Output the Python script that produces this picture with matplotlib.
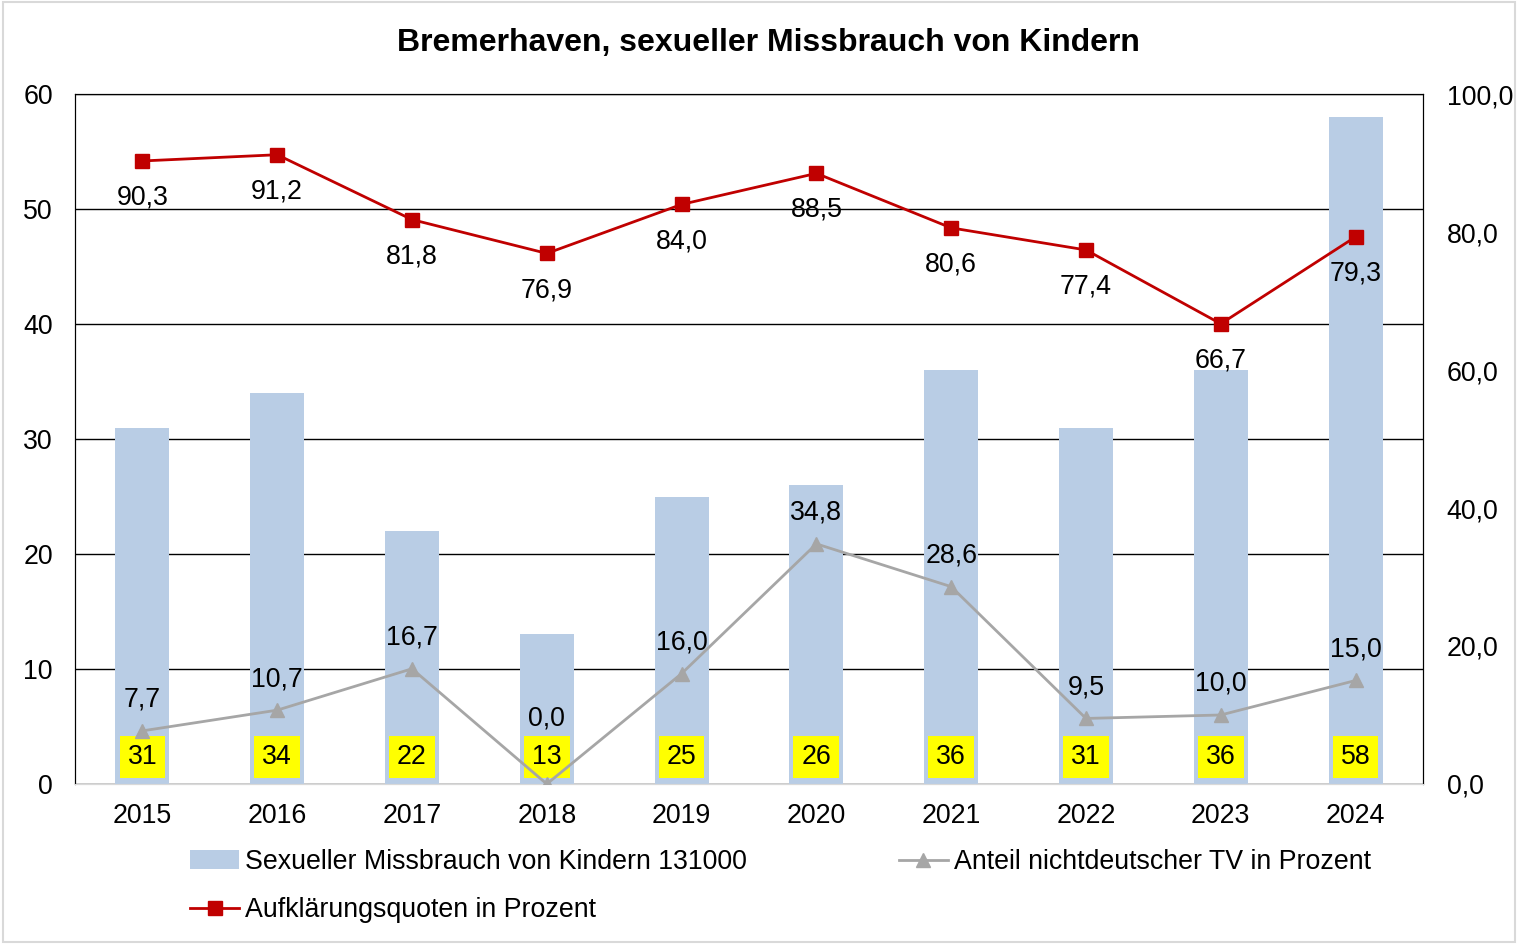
import matplotlib.pyplot as plt
import numpy as np
from matplotlib.patches import Rectangle

plt.rcParams['font.family'] = ['Liberation Sans', 'DejaVu Sans']

years = ['2015', '2016', '2017', '2018', '2019', '2020', '2021', '2022', '2023', '2024']
faelle = [31, 34, 22, 13, 25, 26, 36, 31, 36, 58]
aufklaerung = [90.3, 91.2, 81.8, 76.9, 84.0, 88.5, 80.6, 77.4, 66.7, 79.3]
nichtdeutsch = [7.7, 10.7, 16.7, 0.0, 16.0, 34.8, 28.6, 9.5, 10.0, 15.0]

FS = 19.3


def de(v):
    return f'{v:.1f}'.replace('.', ',')


fig = plt.figure(figsize=(15.18, 9.44), dpi=100)
fig.patches.append(Rectangle((0.002, 0.002), 0.996, 0.996, transform=fig.transFigure,
                             fill=False, edgecolor='#d9d9d9', linewidth=1.5))
ax = fig.add_axes([0.0494, 0.1695, 0.888, 0.7309])
ax2 = ax.twinx()

x = np.arange(len(years))
ax.bar(x, faelle, width=0.4, color='#b9cde5', zorder=2,
       label='Sexueller Missbrauch von Kindern 131000')
ax.set_ylim(0, 60)
ax.set_xlim(-0.5, len(years) - 0.5)
ax.set_yticks(range(0, 61, 10))
ax.yaxis.grid(True, color='black', linewidth=1)
ax.set_axisbelow(True)
ax.set_xticks(x)
ax.set_xticklabels(years)
ax.tick_params(axis='both', length=0, labelsize=FS, pad=16)
ax.tick_params(axis='x', pad=14)

# yellow count labels at the foot of each bar
for xi, v in zip(x, faelle):
    ax.text(xi, 2.35, str(v), ha='center', va='center', fontsize=FS, zorder=5,
            bbox=dict(boxstyle='square,pad=0.3', facecolor='#ffff00', edgecolor='none'))

ax2.plot(x, nichtdeutsch, color='#a6a6a6', marker='^', markersize=10, linewidth=2,
         zorder=7, label='Anteil nichtdeutscher TV in Prozent')
ax2.plot(x, aufklaerung, color='#c00000', marker='s', markersize=10, linewidth=2,
         zorder=7, label='Aufklärungsquoten in Prozent')
ax2.set_ylim(0, 100)
ax2.set_yticks(range(0, 101, 20))
ax2.set_yticklabels([de(v) for v in range(0, 101, 20)])
ax2.tick_params(axis='y', length=0, labelsize=FS, pad=17)
ax2.set_zorder(ax.get_zorder() + 1)
ax2.patch.set_visible(False)

for xi, v in zip(x, aufklaerung):
    ax2.annotate(de(v), (xi, v), xytext=(0, -17), textcoords='offset points',
                 ha='center', va='top', fontsize=FS, zorder=8)
for xi, v in zip(x, nichtdeutsch):
    off = 38 if v < 3 else 13
    ax2.annotate(de(v), (xi, v), xytext=(0, off), textcoords='offset points',
                 ha='center', va='bottom', fontsize=FS, zorder=8)

for a in (ax, ax2):
    a.spines['left'].set_color('black')
    a.spines['right'].set_color('black')
    a.spines['top'].set_color('black')
    a.spines['bottom'].set_color('#d9d9d9')

fig.text(0.506, 0.954, 'Bremerhaven, sexueller Missbrauch von Kindern',
         ha='center', va='center', fontsize=23, fontweight='bold')

h1, l1 = ax.get_legend_handles_labels()
h2, l2 = ax2.get_legend_handles_labels()
handles = [h1[0], h2[1], h2[0]]
labels = [l1[0], l2[1], l2[0]]
fig.legend(handles, labels, ncol=2, loc='upper left', bbox_to_anchor=(0.125, 0.1006),
           frameon=False, fontsize=FS, handlelength=1.85, handletextpad=0.22,
           columnspacing=5.65, labelspacing=0.82, borderaxespad=0, borderpad=0)

fig.savefig('out.png', dpi=100)
